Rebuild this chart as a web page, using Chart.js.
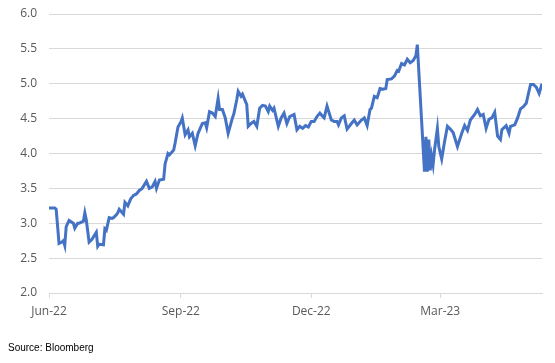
<!DOCTYPE html>
<html>
<head>
<meta charset="utf-8">
<script src="https://cdn.jsdelivr.net/npm/chart.js@4.4.1/dist/chart.umd.min.js"></script>
<style>
  html, body { margin: 0; padding: 0; background: #fff; }
  #wrap { position: relative; width: 555px; height: 363px; }
  #source {
    position: absolute; left: 8px; top: 342px;
    font: 10px "Liberation Sans", Arial, sans-serif; color: #000;
  }
</style>
</head>
<body>
<div id="wrap">
  <canvas id="yieldChart" width="555" height="363"></canvas>
  <div id="source">Source: Bloomberg</div>
</div>
<script>
  // Observation dates, as days after 1 Jun 2022
  const obsDays = [
    0, 4, 5, 7, 9, 10, 11, 12, 14, 17, 18, 20, 21, 24, 25, 26, 28, 30, 33, 34,
    35, 38, 39, 40, 42, 44, 45, 47, 48, 49, 52, 53, 55, 57, 59, 61, 63, 65, 68, 70,
    72, 74, 75, 77, 80, 81, 83, 84, 87, 88, 90, 92, 93,
    95, 97, 98, 100, 102, 104, 107, 109, 110, 112, 114, 116, 118, 119, 121, 123, 125, 128, 129,
    131, 132, 134, 135, 138, 139, 141, 143, 145, 147, 149, 151, 153, 154, 156, 157, 160, 162, 164,
    166, 168, 171, 173, 175, 177, 179, 181, 183, 185, 187, 189, 191, 192, 194, 197, 199, 201, 202,
    204, 206, 208, 211, 213, 215, 218, 220, 222, 224,
    225, 227, 229, 231, 233, 235, 236, 239, 241, 243, 244, 246, 248, 250, 252, 254, 256, 257,
    262, 263, 264, 265, 266, 267, 268, 269, 271, 272, 274, 276, 278, 280, 282, 285, 288, 290,
    292, 294, 297, 299, 301, 303, 305, 307, 309, 311, 313, 315, 316, 319, 321, 322, 325, 327,
    329, 331, 333, 336, 338, 340, 342, 344
  ];

  // Yield values (%)
  const yieldValues = [
    3.22, 3.22, 3.20, 2.71, 2.73, 2.75, 2.68, 2.95, 3.04, 3.00, 2.93, 3.00, 3.00, 3.03, 3.15, 3.05, 2.73, 2.77, 2.87, 2.67,
    2.70, 2.69, 2.92, 2.90, 3.08, 3.07, 3.08, 3.12, 3.15, 3.20, 3.13, 3.30, 3.25, 3.35, 3.40, 3.42, 3.47, 3.50, 3.60, 3.50,
    3.52, 3.60, 3.50, 3.62, 3.63, 3.85, 4.00, 3.98, 4.05, 4.15, 4.38, 4.45, 4.51,
    4.27, 4.34, 4.24, 4.29, 4.11, 4.29, 4.43, 4.44, 4.37, 4.60, 4.58, 4.53, 4.79, 4.63, 4.63, 4.51, 4.29, 4.51, 4.57,
    4.77, 4.89, 4.82, 4.85, 4.70, 4.39, 4.43, 4.46, 4.39, 4.65, 4.69, 4.68, 4.60, 4.68, 4.62, 4.65, 4.39, 4.51, 4.58,
    4.43, 4.53, 4.56, 4.34, 4.39, 4.36, 4.40, 4.38, 4.46, 4.46, 4.53, 4.58, 4.53, 4.51, 4.68, 4.48, 4.46, 4.46, 4.41,
    4.51, 4.54, 4.35, 4.43, 4.48, 4.41, 4.48, 4.51, 4.40, 4.63,
    4.65, 4.82, 4.80, 4.93, 4.92, 4.93, 5.06, 5.07, 5.11, 5.19, 5.18, 5.29, 5.27, 5.35, 5.30, 5.33, 5.40, 5.56,
    3.74, 4.24, 3.74, 4.20, 3.76, 3.96, 3.84, 4.05, 4.36, 4.10, 3.92, 4.17, 4.39, 4.35, 4.30, 4.10, 4.29, 4.40,
    4.33, 4.48, 4.56, 4.63, 4.54, 4.56, 4.36, 4.49, 4.51, 4.59, 4.25, 4.20, 4.34, 4.40, 4.29, 4.39, 4.41, 4.51,
    4.64, 4.67, 4.72, 4.99, 4.99, 4.95, 4.86, 5.00
  ];

  // x-axis ticks (days after 1 Jun 2022) and their labels
  const tickDays = [0, 92, 183, 273];
  const tickLabels = ['Jun-22', 'Sep-22', 'Dec-22', 'Mar-23'];

  const gridColor = '#d9d9d9';
  const labelFont = { family: '"Open Sans", "Noto Sans", sans-serif', size: 12 };

  new Chart(document.getElementById('yieldChart'), {
    type: 'line',
    data: {
      datasets: [{
        data: obsDays.map((d, i) => ({ x: d, y: yieldValues[i] })),
        borderColor: '#4472C4',
        borderWidth: 3,
        pointRadius: 0,
        tension: 0,
        fill: false
      }]
    },
    options: {
      responsive: false,
      animation: false,
      layout: { padding: { top: 14, right: 13, left: 0, bottom: 0 } },
      plugins: { legend: { display: false }, tooltip: { enabled: false } },
      scales: {
        x: {
          type: 'linear',
          min: 0,
          max: 344,
          afterBuildTicks: scale => { scale.ticks = tickDays.map(v => ({ value: v })); },
          afterFit: scale => { scale.height = 70; },
          ticks: {
            autoSkip: false,
            maxRotation: 0,
            padding: 6,
            color: '#595959',
            font: labelFont,
            callback: v => tickLabels[tickDays.indexOf(v)]
          },
          grid: { drawOnChartArea: false, drawTicks: true, tickLength: 5, color: gridColor },
          border: { display: true, color: gridColor }
        },
        y: {
          min: 2,
          max: 6,
          afterFit: scale => { scale.width = 49; scale.paddingTop = 0; },
          ticks: {
            stepSize: 0.5,
            padding: 12,
            color: '#595959',
            font: labelFont,
            callback: v => v.toFixed(1)
          },
          grid: { color: gridColor, drawTicks: false },
          border: { display: false }
        }
      }
    }
  });
</script>
</body>
</html>
